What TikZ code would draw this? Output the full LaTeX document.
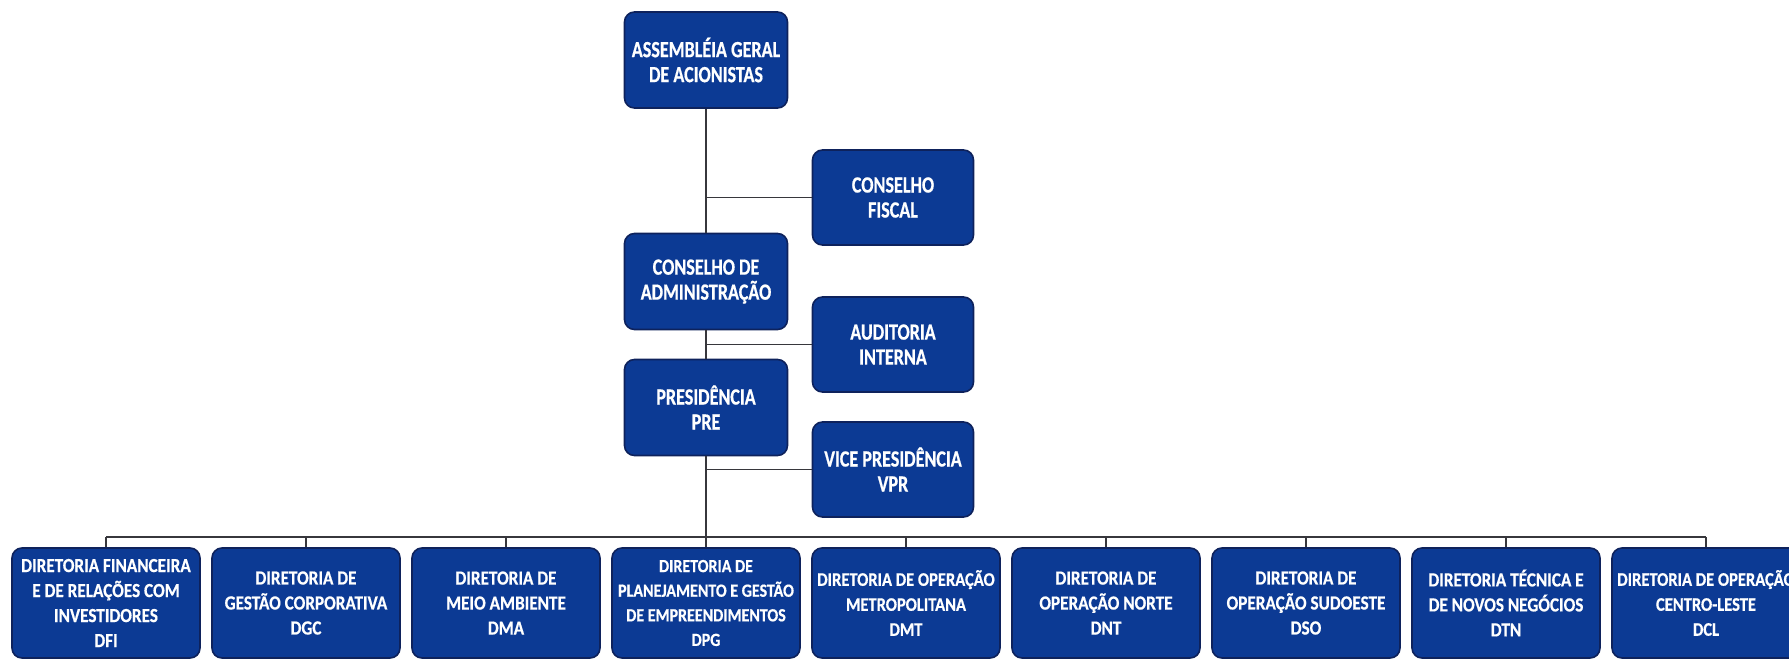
\documentclass[tikz,border=0pt]{standalone}
\usepackage{fontspec}
\newfontfamily\boxfont{Carlito}[FakeStretch=0.86, BoldFeatures={FakeBold=0.6}]
\newfontfamily\topfont{Carlito}[FakeStretch=0.78, BoldFeatures={FakeBold=0.6}]
\definecolor{boxblue}{RGB}{12,58,148}
\definecolor{boxedge}{RGB}{14,34,92}
\definecolor{linecol}{RGB}{55,55,60}
\begin{document}
\begin{tikzpicture}[x=0.5pt,y=-0.5pt,
  orgbox/.style={draw=boxedge, line width=0.8pt, fill=boxblue, rounded corners=5pt,
    text=white, align=center, inner sep=1pt, font=\topfont\bfseries\fontsize{11.6}{12.5}\selectfont},
  topbox/.style={orgbox, minimum width=81.5pt, minimum height=48pt},
  sidebox/.style={orgbox, minimum width=80.5pt, minimum height=47.5pt},
  dirbox/.style={orgbox, minimum width=94pt, minimum height=55pt, font=\boxfont\bfseries\fontsize{10}{12.5}\selectfont},
  conn/.style={draw=linecol, line width=0.6pt}]
\useasboundingbox (0,0) rectangle (1789,659);
% top column
\node[topbox] (ag) at (706,60) {ASSEMBLÉIA GERAL\\DE ACIONISTAS};
\node[topbox] (ca) at (706,281.5) {CONSELHO DE\\ADMINISTRAÇÃO};
\node[topbox] (pre) at (706,407.5) {PRESIDÊNCIA\\PRE};
% side boxes
\node[sidebox] (cf) at (893,197.5) {CONSELHO\\FISCAL};
\node[sidebox] (ai) at (893,344.5) {AUDITORIA\\INTERNA};
\node[sidebox] (vpr) at (893,469.5) {VICE PRESIDÊNCIA\\VPR};
% bottom row
\node[dirbox] (d1) at (106,603) {DIRETORIA FINANCEIRA\\E DE RELAÇÕES COM\\INVESTIDORES\\DFI};
\node[dirbox] (d2) at (306,603) {DIRETORIA DE\\GESTÃO CORPORATIVA\\DGC};
\node[dirbox] (d3) at (506,603) {DIRETORIA DE\\MEIO AMBIENTE\\DMA};
\node[dirbox, font=\boxfont\bfseries\fontsize{9.3}{12.3}\selectfont] (d4) at (706,603) {DIRETORIA DE\\PLANEJAMENTO E GESTÃO\\DE EMPREENDIMENTOS\\DPG};
\node[dirbox, font=\boxfont\bfseries\fontsize{9.6}{12.5}\selectfont] (d5) at (906,603) {DIRETORIA DE OPERAÇÃO\\METROPOLITANA\\DMT};
\node[dirbox] (d6) at (1106,603) {DIRETORIA DE\\OPERAÇÃO NORTE\\DNT};
\node[dirbox] (d7) at (1306,603) {DIRETORIA DE\\OPERAÇÃO SUDOESTE\\DSO};
\node[dirbox] (d8) at (1506,603) {DIRETORIA TÉCNICA E\\DE NOVOS NEGÓCIOS\\DTN};
\node[dirbox, font=\boxfont\bfseries\fontsize{9.6}{12.5}\selectfont] (d9) at (1706,603) {DIRETORIA DE OPERAÇÃO\\CENTRO-LESTE\\DCL};
\coordinate (bus) at (0,537);
% connectors
\draw[conn] (ag.south) -- (ca.north);
\draw[conn] (ca.south) -- (pre.north);
\draw[conn] (pre.south) -- (d4.north);
\draw[conn] (cf.west) -- (cf.west -| ag.south);
\draw[conn] (ai.west) -- (ai.west -| ca.south);
\draw[conn] (vpr.west) -- (vpr.west -| pre.south);
\draw[conn] (d1.north |- bus) -- (d9.north |- bus);
\foreach \i in {1,2,3,5,6,7,8,9}{
  \draw[conn] (d\i.north) -- (d\i.north |- bus);
}
\end{tikzpicture}
\end{document}
